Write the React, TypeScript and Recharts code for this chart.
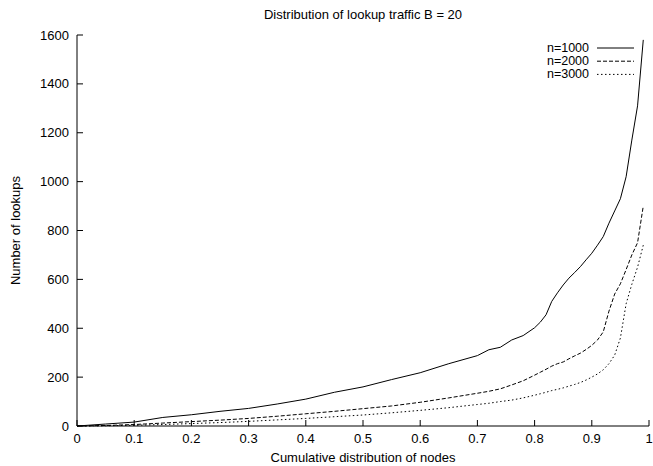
import React from 'react'
import { LineChart, Line, XAxis, YAxis, Legend, Label } from 'recharts'

// cumulative share of nodes (x) and lookups handled, per network size
const nodeShare = [
  0, 0.05, 0.1, 0.15, 0.2, 0.25, 0.3, 0.35, 0.4, 0.45, 0.5, 0.55, 0.6, 0.65, 0.7,
  0.72, 0.74, 0.76, 0.78, 0.8, 0.81, 0.82, 0.83, 0.84, 0.85, 0.86, 0.87, 0.88, 0.89,
  0.9, 0.91, 0.92, 0.93, 0.94, 0.95, 0.96, 0.97, 0.98, 0.99,
]
const lookups1000 = [
  0, 8, 16, 35, 46, 60, 72, 90, 110, 138, 160, 190, 218, 255, 288,
  312, 322, 352, 370, 402, 425, 455, 510, 545, 577, 605, 628, 652, 680,
  707, 740, 775, 830, 880, 930, 1020, 1170, 1310, 1580,
]
const lookups2000 = [
  0, 2, 6, 12, 18, 24, 31, 40, 50, 60, 71, 82, 97, 115, 134,
  142, 152, 168, 185, 208, 220, 232, 245, 255, 262, 275, 287, 298, 313,
  330, 352, 385, 470, 540, 582, 640, 700, 750, 900,
]
const lookups3000 = [
  0, 1, 3, 6, 10, 14, 19, 25, 31, 38, 45, 54, 64, 75, 88,
  93, 100, 106, 115, 126, 132, 138, 145, 150, 156, 163, 170, 178, 188,
  200, 213, 230, 255, 290, 360, 500, 580, 650, 740,
]
const xTicks = [0, 0.1, 0.2, 0.3, 0.4, 0.5, 0.6, 0.7, 0.8, 0.9, 1]
const yTicks = [0, 200, 400, 600, 800, 1000, 1200, 1400, 1600]
const title = 'Distribution of lookup traffic B = 20'

const series = [
  { key: 'n1000', name: 'n=1000', values: lookups1000, dash: undefined as string | undefined },
  { key: 'n2000', name: 'n=2000', values: lookups2000, dash: '4 2' },
  { key: 'n3000', name: 'n=3000', values: lookups3000, dash: '1.5 2.5' },
]

const data = nodeShare.map((x, i) => {
  const row: { [k: string]: number } = { x }
  series.forEach(s => { row[s.key] = s.values[i] })
  return row
})

const FONT = '"Liberation Sans", Arial, sans-serif'
const tickStyle = { fill: '#000', fontSize: 13, fontFamily: FONT }
const blank = () => ''

function LegendBox() {
  return (
    <svg width={160} height={46} style={{ display: 'block' }}>
      {series.map((s, i) => (
        <g key={s.key}>
          <text x={109} y={8 + i * 13.2} textAnchor="end" dominantBaseline="central"
            fontSize={12.5} fontFamily={FONT} fill="#000">{s.name}</text>
          <line x1={117} x2={154} y1={8 + i * 13.2} y2={8 + i * 13.2}
            stroke="#000" strokeWidth={1} strokeDasharray={s.dash} />
        </g>
      ))}
    </svg>
  )
}

export default function App() {
  return (
    <div style={{ position: 'absolute', left: 0, top: 0, width: 653, height: 466, background: '#fff' }}>
      <div style={{
        position: 'absolute', left: 77, width: 572, top: 7, textAlign: 'center',
        fontFamily: FONT, fontSize: 13, lineHeight: '16px', color: '#000',
      }}>{title}</div>
      <LineChart width={653} height={466} data={data}
        margin={{ top: 35, right: 4, bottom: 0, left: 0 }}
        style={{ fontFamily: FONT }}>
        <XAxis dataKey="x" type="number" domain={[0, 1]} ticks={xTicks}
          tickFormatter={(v: number) => String(v)} height={40}
          tickSize={-6} tickMargin={14} tick={tickStyle}
          axisLine={{ stroke: '#000' }} tickLine={{ stroke: '#000' }}>
          <Label value="Cumulative distribution of nodes" position="insideBottom" offset={4}
            style={{ fill: '#000', fontSize: 13, fontFamily: FONT }} />
        </XAxis>
        <XAxis xAxisId="top" orientation="top" dataKey="x" type="number" domain={[0, 1]}
          ticks={xTicks} height={0} tickSize={-6} tickFormatter={blank}
          axisLine={{ stroke: '#000' }} tickLine={{ stroke: '#000' }} />
        <YAxis type="number" domain={[0, 1600]} ticks={yTicks} width={77}
          tickSize={-6} tickMargin={14} tick={tickStyle}
          axisLine={{ stroke: '#000' }} tickLine={{ stroke: '#000' }}>
          <Label value="Number of lookups" angle={-90} position="insideLeft" offset={15}
            style={{ fill: '#000', fontSize: 13, fontFamily: FONT, textAnchor: 'middle' }} />
        </YAxis>
        <YAxis yAxisId="right" orientation="right" type="number" domain={[0, 1600]}
          ticks={yTicks} width={0} tickSize={-6} tickFormatter={blank}
          axisLine={{ stroke: '#000' }} tickLine={{ stroke: '#000' }} />
        <Legend layout="vertical" align="center" verticalAlign="middle"
          content={() => <LegendBox />}
          wrapperStyle={{ position: 'absolute', left: 480, top: 40, width: 160, height: 46 }} />
        {series.map(s => (
          <Line key={s.key} dataKey={s.key} name={s.name} type="linear"
            stroke="#000" strokeWidth={1} strokeDasharray={s.dash}
            dot={false} activeDot={false} isAnimationActive={false} />
        ))}
      </LineChart>
    </div>
  )
}
